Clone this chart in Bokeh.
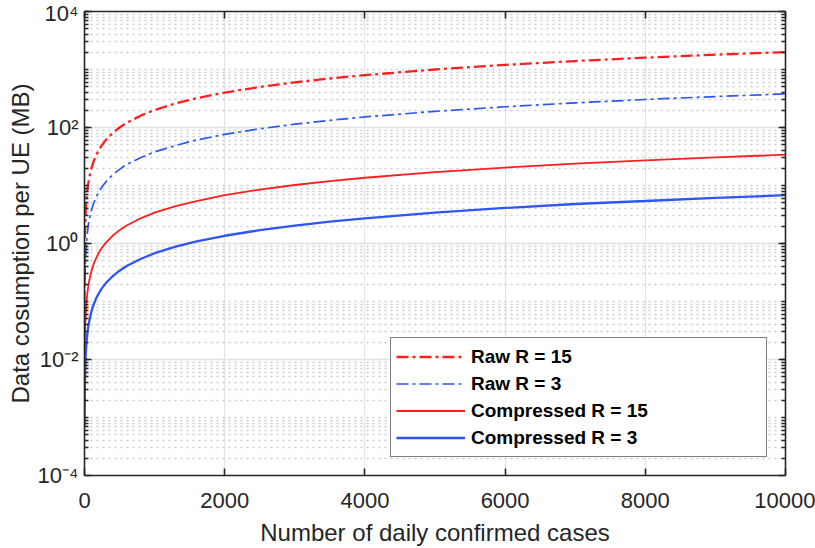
from bokeh.plotting import figure
from bokeh.models import (FixedTicker, LogAxis, LinearAxis, Legend, LegendItem,
                          Range1d)
from bokeh.embed import file_html
from bokeh.resources import INLINE

# ---- data ----
cases = [1, 2, 3, 4, 6, 8, 10, 13, 16, 20, 25, 30, 40, 50, 60, 80, 100, 130, 160, 200,
         250, 300, 400, 500, 600, 800, 1000, 1300, 1600, 2000, 2500, 3000, 3500, 4000,
         5000, 6000, 7000, 8000, 9000, 10000]
raw_r15 = [0.2, 0.4, 0.6, 0.8, 1.2, 1.6, 2.0, 2.6, 3.2, 4.0, 5.0, 6.0, 8.0, 10, 12, 16,
           20, 26, 32, 40, 50, 60, 80, 100, 120, 160, 200, 260, 320, 400, 500, 600, 700,
           800, 1000, 1200, 1400, 1600, 1800, 2000]
raw_r3 = [0.038, 0.076, 0.114, 0.15, 0.23, 0.30, 0.38, 0.49, 0.61, 0.76, 0.95, 1.14, 1.5,
          1.9, 2.3, 3.0, 3.8, 4.9, 6.1, 7.6, 9.5, 11.4, 15.2, 19, 23, 30, 38, 49, 61, 76,
          95, 114, 133, 152, 190, 228, 266, 304, 342, 380]
comp_r15 = [0.0034, 0.0068, 0.0102, 0.0136, 0.0204, 0.0272, 0.034, 0.044, 0.054, 0.068,
            0.085, 0.102, 0.136, 0.17, 0.204, 0.272, 0.34, 0.44, 0.54, 0.68, 0.85, 1.02,
            1.36, 1.7, 2.04, 2.72, 3.4, 4.4, 5.4, 6.8, 8.5, 10.2, 11.9, 13.6, 17, 20.4,
            23.8, 27.2, 30.6, 34]
comp_r3 = [0.00068, 0.00136, 0.00204, 0.00272, 0.0041, 0.0054, 0.0068, 0.0088, 0.0109,
           0.0136, 0.017, 0.0204, 0.0272, 0.034, 0.041, 0.054, 0.068, 0.088, 0.109, 0.136,
           0.17, 0.204, 0.272, 0.34, 0.41, 0.54, 0.68, 0.88, 1.09, 1.36, 1.7, 2.04, 2.38,
           2.72, 3.4, 4.1, 4.8, 5.4, 6.1, 6.8]
series_labels = ["Raw R = 15", "Raw R = 3", "Compressed R = 15", "Compressed R = 3"]

x_ticks = [0, 2000, 4000, 6000, 8000, 10000]
y_ticks = [1e-4, 1e-2, 1, 1e2, 1e4]
y_tick_labels = ["10\u207b\u2074", "10\u207b\u00b2", "10\u2070", "10\u00b2", "10\u2074"]

# minor decade ticks (2..9 x 10^k, plus odd decades)
y_minor = []
for k in range(-4, 4):
    for m in range(2, 11):
        y_minor.append(m * 10.0 ** k)

FONT = "Liberation Sans"
AX = "#262626"
RED = "#ff1f1f"
BLUE = "#2f55f7"

p = figure(width=815, height=548, y_axis_type="log",
           x_range=Range1d(0, 10000), y_range=Range1d(1e-4, 1e4),
           output_backend="svg", toolbar_location=None,
           min_border_left=84, min_border_right=30, min_border_top=11,
           min_border_bottom=72, background_fill_color="white",
           border_fill_color="white")
p.outline_line_color = None

yt = FixedTicker(ticks=y_ticks, minor_ticks=y_minor)
xt = FixedTicker(ticks=x_ticks, minor_ticks=[])

# bottom axis
xa = p.xaxis[0]
xa.ticker = xt
xa.axis_label = "Number of daily confirmed cases"
# left axis
ya = p.yaxis[0]
ya.ticker = yt
ya.axis_label = "Data cosumption per UE (MB)"
ya.major_label_overrides = {v: s for v, s in zip(y_ticks, y_tick_labels)}

top = LinearAxis(ticker=xt)
right = LogAxis(ticker=yt)
p.add_layout(top, "above")
p.add_layout(right, "right")

for ax in [xa, ya, top, right]:
    ax.axis_line_color = AX
    ax.axis_line_width = 1.6
    ax.major_tick_line_color = AX
    ax.minor_tick_line_color = AX
    ax.major_tick_line_width = 1.6
    ax.minor_tick_line_width = 1.3
    ax.major_tick_in = 7
    ax.major_tick_out = 0
    ax.minor_tick_in = 4
    ax.minor_tick_out = 0
    ax.major_label_text_font = FONT
    ax.major_label_text_font_size = "22px"
    ax.major_label_text_color = AX
    ax.axis_label_text_font = FONT
    ax.axis_label_text_font_size = "24px"
    ax.axis_label_text_font_style = "normal"
    ax.axis_label_text_color = AX

for ax in [top, right]:
    ax.major_label_text_font_size = "1px"
    ax.major_label_text_alpha = 0
    ax.major_label_standoff = 0
for ax in [xa, top]:
    ax.minor_tick_in = 0

xa.major_label_standoff = 17
xa.axis_label_standoff = 8
ya.major_label_standoff = 6
ya.axis_label_standoff = 1

# grids
p.xgrid.ticker = xt
p.ygrid.ticker = yt
p.xgrid.grid_line_color = "#e2e4e4"
p.xgrid.grid_line_width = 1.2
p.ygrid.grid_line_color = "#e2e4e4"
p.ygrid.grid_line_width = 1.4
p.ygrid.minor_grid_line_color = "#c9cdcd"
p.ygrid.minor_grid_line_width = 1.5
p.ygrid.minor_grid_line_dash = "2 4"

# data lines
r1 = p.line(cases, raw_r15, line_color=RED, line_width=2.3, line_dash="12 4 3 4")
r2 = p.line(cases, raw_r3, line_color=BLUE, line_width=1.7, line_dash="12 4 3 4")
r3 = p.line(cases, comp_r15, line_color=RED, line_width=1.8)
r4 = p.line(cases, comp_r3, line_color=BLUE, line_width=2.3)

legend = Legend(items=[LegendItem(label=lab, renderers=[r])
                       for lab, r in zip(series_labels, [r1, r2, r3, r4])],
                location="bottom_right", margin=18, padding=5, spacing=0,
                glyph_width=69, glyph_height=27, label_height=27,
                label_width=290, label_standoff=6,
                label_text_font=FONT, label_text_font_size="19px",
                label_text_font_style="bold", label_text_color="black",
                border_line_color="black", border_line_width=1.5,
                background_fill_color="white", background_fill_alpha=1.0)
p.add_layout(legend)

open("out.html", "w").write(file_html(p, INLINE))
